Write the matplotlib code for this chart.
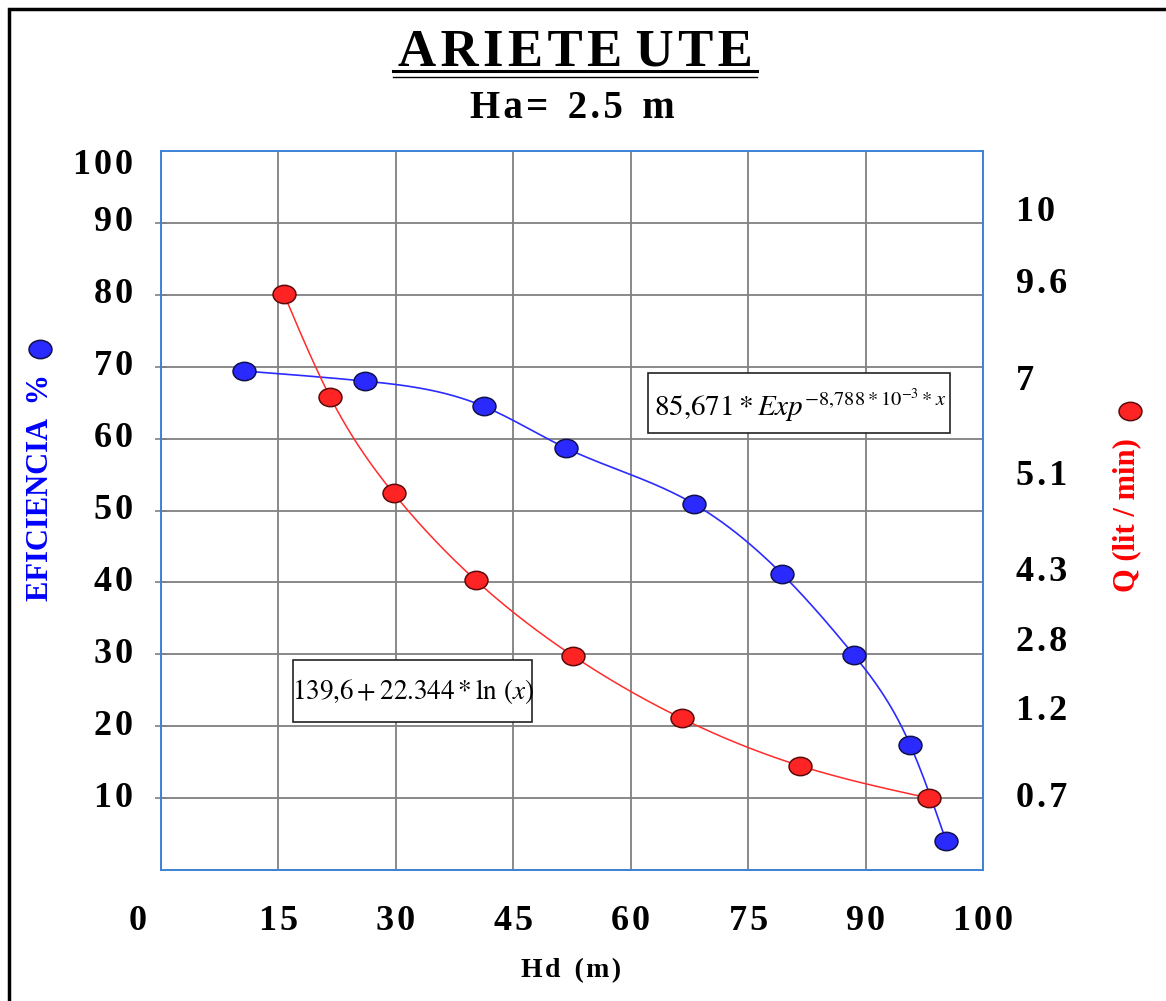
import numpy as np
import matplotlib
matplotlib.use("Agg")
import matplotlib.pyplot as plt
from matplotlib.path import Path
from matplotlib.transforms import Affine2D
from matplotlib.patches import Rectangle
from matplotlib.lines import Line2D

plt.rcParams['font.family'] = ['Liberation Serif', 'DejaVu Serif']
plt.rcParams['font.weight'] = 'normal'
plt.rcParams['mathtext.fontset'] = 'stix'

# --- datos ---
hd_efi = [10.6, 26.0, 41.2, 51.7, 68.1, 79.3, 88.5, 95.7, 100.3]
efi = [69.4, 68.0, 64.5, 58.7, 50.9, 41.2, 29.9, 17.4, 4.0]

hd_q = [15.7, 21.6, 29.7, 40.2, 52.6, 66.5, 81.6, 98.1]
q_pos = [80.1, 65.8, 52.4, 40.3, 29.8, 21.1, 14.5, 10.0]

x_ticks = [0, 15, 30, 45, 60, 75, 90, 105]
x_labels = ["0", "15", "30", "45", "60", "75", "90", "100"]
y_ticks = [10, 20, 30, 40, 50, 60, 70, 80, 90]
y_labels = ["10", "20", "30", "40", "50", "60", "70", "80", "90"]
q_ticks = [91.4, 81.4, 68.0, 54.7, 41.4, 31.6, 22.0, 9.9]
q_labels = ["10", "9.6", "7", "5.1", "4.3", "2.8", "1.2", "0.7"]

HS = '\u200a'  # espacio fino para separar letras


def esp(s):
    return HS.join(s)


def spline(x, y, n=400):
    # spline cubica natural, solo para trazar la linea entre puntos
    x = np.asarray(x, float)
    y = np.asarray(y, float)
    k = len(x)
    h = np.diff(x)
    A = np.zeros((k, k))
    b = np.zeros(k)
    A[0, 0] = A[-1, -1] = 1
    for i in range(1, k - 1):
        A[i, i - 1] = h[i - 1]
        A[i, i] = 2 * (h[i - 1] + h[i])
        A[i, i + 1] = h[i]
        b[i] = 6 * ((y[i + 1] - y[i]) / h[i] - (y[i] - y[i - 1]) / h[i - 1])
    M = np.linalg.solve(A, b)
    xs = np.linspace(x[0], x[-1], n)
    j = np.clip(np.searchsorted(x, xs) - 1, 0, k - 2)
    t0 = x[j + 1] - xs
    t1 = xs - x[j]
    hj = h[j]
    ys = (M[j] * t0 ** 3 + M[j + 1] * t1 ** 3) / (6 * hj) \
        + (y[j] / hj - M[j] * hj / 6) * t0 + (y[j + 1] / hj - M[j + 1] * hj / 6) * t1
    return xs, ys


elipse = Path.unit_circle().transformed(Affine2D().scale(1.25, 1.0))
AZUL = dict(mfc='#2a2aff', mec='#10104a', mew=1.1)
ROJO = dict(mfc='#ff2424', mec='#5a0a0a', mew=1.1)
MS = 16.5

fig = plt.figure(figsize=(11.66, 10.01), dpi=100)
ax = fig.add_axes([161 / 1166, 131 / 1001, 822 / 1166, 719 / 1001])
ax.set_xlim(0, 105)
ax.set_ylim(0, 100)
ax.set_axisbelow(True)

ax.set_xticks(x_ticks)
ax.set_yticks(y_ticks)
ax.set_xticklabels([])
ax.set_yticklabels([])
ax.grid(True, color='#808080', lw=1.3)
ax.tick_params(axis='x', length=0)
ax.tick_params(axis='y', direction='inout', length=9, color='#808080', width=1.2)
for s in ax.spines.values():
    s.set_color('#3b82d6')
    s.set_linewidth(1.4)

# etiquetas de ejes
for xv, lab in zip(x_ticks, x_labels):
    dx = -3.0 if xv == 0 else 0.0
    ax.text(xv + dx, -0.071, esp(lab), transform=ax.get_xaxis_transform(),
            ha='center', va='center', fontsize=26, fontweight='bold')
for yv, lab in zip(y_ticks, y_labels):
    ax.text(-0.034, yv, esp(lab), transform=ax.get_yaxis_transform(),
            ha='right', va='center', fontsize=26, fontweight='bold')
ax.text(-0.034, 98.0, esp("100"), transform=ax.get_yaxis_transform(),
        ha='right', va='center', fontsize=26, fontweight='bold')
for yv, lab in zip(q_ticks, q_labels):
    ax.text(1.040, yv, esp(lab), transform=ax.get_yaxis_transform(),
            ha='left', va='center', fontsize=26, fontweight='bold')

# curvas
xs, ys = spline(hd_efi, efi)
ax.plot(xs, ys, color='#2b2bff', lw=1.2, zorder=3)
xs, ys = spline(hd_q, q_pos)
ax.plot(xs, ys, color='#ff2b2b', lw=1.1, zorder=3)

ax.plot(hd_efi, efi, ls='none', marker=elipse, ms=MS, zorder=4, **AZUL)
ax.plot(hd_q, q_pos, ls='none', marker=elipse, ms=MS, zorder=4, **ROJO)

# cuadros de ecuaciones
ax.add_patch(Rectangle((0.592, 0.608), 0.368, 0.083, transform=ax.transAxes,
                       fc='white', ec='#222222', lw=1.2, zorder=5))
ax.text(0.777, 0.646, r'$85{,}671 * Exp^{-8{,}788 * 10^{-3} * x}$', transform=ax.transAxes,
        ha='center', va='center', fontsize=21, zorder=6)
ax.add_patch(Rectangle((0.161, 0.206), 0.290, 0.086, transform=ax.transAxes,
                       fc='white', ec='#222222', lw=1.2, zorder=5))
ax.text(0.306, 0.248, r'$139{,}6 + 22.344 * \ln\,(x)$', transform=ax.transAxes,
        ha='center', va='center', fontsize=19.5, zorder=6)

# titulos
fig.text(575 / 1166, 1 - 52 / 1001, esp("ARIETE") + " " + esp("UTE"),
         ha='center', va='center', fontsize=38, fontweight='bold')
fig.add_artist(Line2D([393 / 1166, 757 / 1166], [1 - 71 / 1001] * 2, color='black', lw=2.2))
fig.add_artist(Line2D([393 / 1166, 757 / 1166], [1 - 77 / 1001] * 2, color='black', lw=1.0))
fig.text(572 / 1166, 1 - 109 / 1001, esp("Ha=") + "  " + esp("2.5") + "  m",
         ha='center', va='center', fontsize=28, fontweight='bold')
fig.text(571 / 1166, 1 - 971 / 1001, esp("Hd") + "  " + esp("(m)"),
         ha='center', va='center', fontsize=20, fontweight='bold')

fig.text(41 / 1166, 1 - 487 / 1001, "EFICIENCIA  %", rotation=90, color='#0000ff',
         ha='center', va='center', fontsize=22, fontweight='bold')
fig.text(1127 / 1166, 1 - 515 / 1001, "Q (lit / min)", rotation=90, color='#ff0000',
         ha='center', va='center', fontsize=22, fontweight='bold')
fig.add_artist(Line2D([40 / 1166], [1 - 349 / 1001], ls='none', marker=elipse, ms=MS, **AZUL))
fig.add_artist(Line2D([1130 / 1166], [1 - 411 / 1001], ls='none', marker=elipse, ms=MS, **ROJO))

# marco exterior
fig.add_artist(Rectangle((9 / 1166, -0.1), 1.2, 1.1 - 9 / 1001, transform=fig.transFigure,
                         fill=False, ec='black', lw=2.5))

fig.savefig("out.png", dpi=100)
